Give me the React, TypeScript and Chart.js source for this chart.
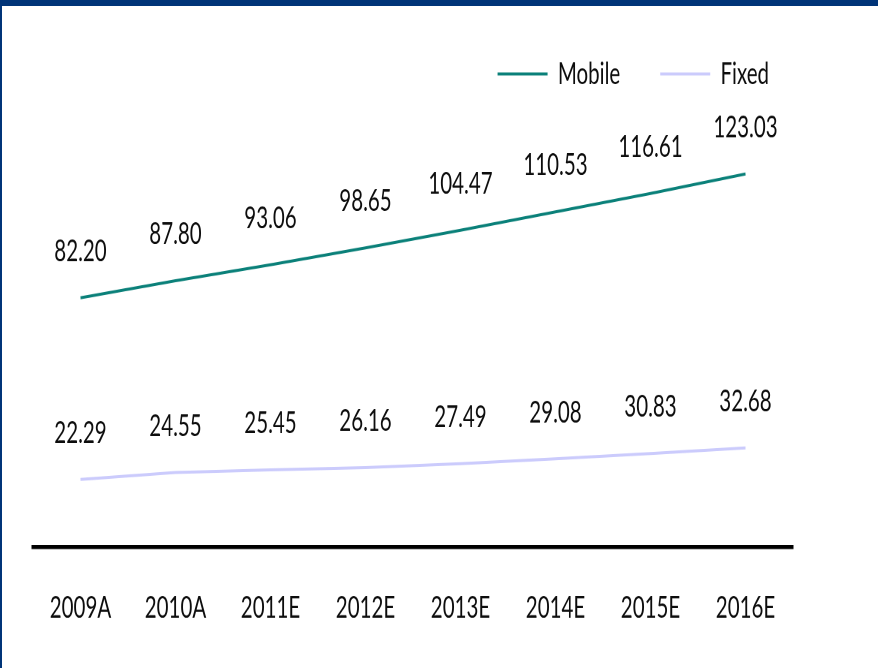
import React, { useEffect, useRef } from "react";
import { Chart, registerables } from "chart.js";

Chart.register(...registerables);

// ---- data ----
const categories = ["2009A", "2010A", "2011E", "2012E", "2013E", "2014E", "2015E", "2016E"];
const seriesNames = ["Mobile", "Fixed"];
const mobileValues = [82.2, 87.8, 93.06, 98.65, 104.47, 110.53, 116.61, 123.03];
const fixedValues = [22.29, 24.55, 25.45, 26.16, 27.49, 29.08, 30.83, 32.68];

// ---- layout / style ----
const W = 878;
const H = 668;
const SY = 1.5; // vertical stretch of the original rendering
const IH = Math.round(H / SY);
const FONT = "Lato, 'Open Sans', 'Noto Sans', sans-serif";
const FS = 20.5;
const TEXT = "#0d0d0d";
const MOBILE_COLOR = "#0a8079";
const FIXED_COLOR = "#cbcbfc";
const NAVY = "#003478";
const LEGEND_DX = 16;
const LEGEND_DY = -1;

const dataLabels = {
  id: "dataLabels",
  afterDatasetsDraw(chart: any) {
    const ctx = chart.ctx;
    ctx.save();
    ctx.font = `${FS}px ${FONT}`;
    ctx.fillStyle = TEXT;
    ctx.textAlign = "center";
    ctx.textBaseline = "middle";
    chart.data.datasets.forEach((ds: any, i: number) => {
      const meta = chart.getDatasetMeta(i);
      meta.data.forEach((pt: any, j: number) => {
        ctx.fillText(Number(ds.data[j]).toFixed(2), pt.x, pt.y - 31);
      });
    });
    ctx.restore();
  },
};

const legendShift = {
  id: "legendShift",
  afterLayout(chart: any) {
    const l = chart.legend;
    if (!l) return;
    l.left += LEGEND_DX;
    l.right += LEGEND_DX;
    l.top += LEGEND_DY;
    l.bottom += LEGEND_DY;
  },
};

export default function App() {
  const ref = useRef<HTMLCanvasElement | null>(null);

  useEffect(() => {
    if (!ref.current) return;
    const chart = new Chart(ref.current, {
      type: "line",
      data: {
        labels: categories,
        datasets: [
          {
            label: seriesNames[0],
            data: mobileValues,
            borderColor: MOBILE_COLOR,
            backgroundColor: MOBILE_COLOR,
            borderWidth: 2,
            pointRadius: 0,
            tension: 0,
          },
          {
            label: seriesNames[1],
            data: fixedValues,
            borderColor: FIXED_COLOR,
            backgroundColor: FIXED_COLOR,
            borderWidth: 2,
            pointRadius: 0,
            tension: 0,
          },
        ],
      },
      options: {
        responsive: false,
        animation: false,
        devicePixelRatio: 2,
        layout: { padding: { left: 33, right: 85, top: 0, bottom: 0 } },
        scales: {
          x: {
            offset: true,
            grid: { display: false, drawTicks: false },
            border: { display: true, color: "#000", width: 2.7 },
            ticks: { color: TEXT, font: { family: FONT, size: FS }, padding: 28, maxRotation: 0 },
          },
          y: { display: false, min: 0, max: 145.5 },
        },
        plugins: {
          legend: {
            position: "top",
            align: "end",
            labels: {
              usePointStyle: true,
              pointStyle: "line",
              pointStyleWidth: 50,
              padding: 40,
              color: TEXT,
              font: { family: FONT, size: FS },
            },
          },
          tooltip: { enabled: false },
        },
      },
      plugins: [dataLabels, legendShift],
    } as any);
    return () => chart.destroy();
  }, []);

  return (
    <div style={{ position: "fixed", left: 0, top: 0, width: W, height: H, background: "#fff", overflow: "hidden" }}>
      <canvas
        ref={ref}
        width={W}
        height={IH}
        style={{ position: "absolute", left: 0, top: 0, width: `${W}px`, height: `${H}px`, display: "block" }}
      />
      <div style={{ position: "absolute", left: 0, top: 0, width: W, height: 6, background: NAVY }} />
      <div style={{ position: "absolute", left: 0, top: 0, width: 2, height: H, background: NAVY }} />
    </div>
  );
}
